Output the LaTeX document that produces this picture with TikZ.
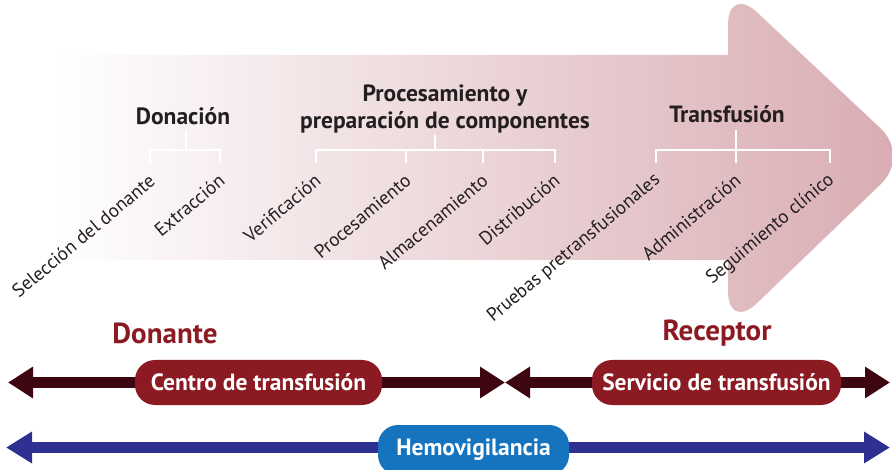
\documentclass[tikz,border=0pt]{standalone}
\usepackage{fontspec}
\setmainfont{PT Sans}
\usetikzlibrary{arrows.meta}
\definecolor{txt}{HTML}{231F20}
\definecolor{pinkR}{HTML}{D8ABB1}
\definecolor{maroonA}{HTML}{3E0610}
\definecolor{boxred}{HTML}{8B1A23}
\definecolor{blueA}{HTML}{2E3192}
\definecolor{blueBox}{HTML}{1673BE}
\begin{document}
\begin{tikzpicture}[x=1pt,y=-1pt,
  head/.style={font=\fontsize{23.5}{27}\selectfont\bfseries, text=txt, align=center, inner sep=0pt},
  lbl/.style={font=\fontsize{19}{22}\selectfont, text=txt, rotate=40, anchor=east, inner sep=0pt},
  bracket/.style={draw=white, line width=2.5pt, line join=miter},
  role/.style={font=\fontsize{29}{32}\selectfont\bfseries, text=boxred, inner sep=0pt},
  pill/.style={rounded corners=20pt, minimum height=45pt, text=white, inner sep=0pt,
    font=\fontsize{23.5}{26}\selectfont\bfseries},
  maroonarrow/.style={draw=maroonA, line width=11pt,
    arrows={Triangle[length=25pt,width=30pt]-Triangle[length=25pt,width=30pt]}},
  bluearrow/.style={draw=blueA, line width=11pt,
    arrows={Triangle[length=26pt,width=30pt]-Triangle[length=26pt,width=30pt]}}]
\useasboundingbox (0,0) rectangle (892,470);
\clip (0,0) rectangle (892,470);
% big process arrow
\shade[left color=white, right color=pinkR]
  (50,55) rectangle (740,260)
  [rounded corners=40pt] (728,331) -- (910,156) -- (728,-15) -- cycle;
% headings
\node[head] (don) at (183,116) {Donación};
\node[head] (proc) at (445,109) {Procesamiento y\\preparación de componentes};
\node[head] (trans) at (727,114) {Transfusión};
% bracket coordinates
\coordinate (dS) at (186,130); \coordinate (dM) at (186,150);
\coordinate (t1) at (150,163); \coordinate (t2) at (220,163);
\coordinate (pS) at (435,135); \coordinate (pM) at (435,150);
\coordinate (t3) at (316,163); \coordinate (t4) at (406,163);
\coordinate (t5) at (483,163); \coordinate (t6) at (555,163);
\coordinate (rS) at (736,130); \coordinate (rM) at (736,150);
\coordinate (t7) at (656,163); \coordinate (t8) at (736,163);
\coordinate (t9) at (830,163);
\draw[bracket] (t1) |- (dM) -| (t2);
\draw[bracket] (dS) -- (dM);
\draw[bracket] (t3) |- (pM) -| (t6);
\draw[bracket] (t4) -- (t4 |- pM);
\draw[bracket] (t5) -- (t5 |- pM);
\draw[bracket] (pS) -- (pM);
\draw[bracket] (t7) |- (rM) -| (t9);
\draw[bracket] (rS) -- (t8);
% step labels
\node[lbl] (l1) at (152,178) {Selección del donante};
\node[lbl] (l2) at (222,178) {Extracción};
\node[lbl] (l3) at (318,178) {Verificación};
\node[lbl] (l4) at (408,178) {Procesamiento};
\node[lbl] (l5) at (485,178) {Almacenamiento};
\node[lbl] (l6) at (557,178) {Distribución};
\node[lbl] (l7) at (658,178) {Pruebas pretransfusionales};
\node[lbl] (l8) at (738,178) {Administración};
\node[lbl] (l9) at (832,178) {Seguimiento clínico};
% roles
\node[role] (donante) at (165,333) {Donante};
\node[role] (receptor) at (717,333) {Receptor};
% double arrows
\coordinate (a1) at (8,382.5);
\coordinate (a2) at (505,382.5);
\coordinate (a3) at (890,382.5);
\draw[maroonarrow] (a1) -- (a2);
\draw[maroonarrow] (a2) -- (a3);
\coordinate (b1) at (6,447.5);
\coordinate (b2) at (890,447.5);
\draw[bluearrow] (b1) -- (b2);
% boxes
\node[pill, fill=boxred, minimum width=247pt] (centro) at (258.5,382.5) {Centro de transfusión};
\node[pill, fill=boxred, minimum width=249pt] (servicio) at (716.5,382.5) {Servicio de transfusión};
\node[pill, fill=blueBox, minimum width=191pt, minimum height=50pt] (hemo) at (473.5,450) {Hemovigilancia};
\end{tikzpicture}
\end{document}
